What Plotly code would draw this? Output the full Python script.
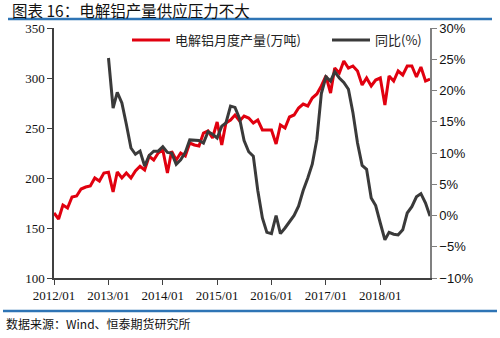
import pandas as pd
import plotly.graph_objects as go

# Monthly dates 2012/01 - 2018/12
months = pd.date_range("2012-01-01", periods=84, freq="MS")

# Electrolytic aluminium monthly output (10k tonnes)
output_wt = [
    165, 159, 173, 170, 181, 182, 189, 191, 192, 200, 197, 205,
    205.7, 186, 206, 200, 205, 200, 207, 211.7, 208, 221.7, 218, 225,
    228, 205, 226.7, 218, 225, 222, 235, 233, 232, 245, 247, 240,
    256, 233, 255, 258, 263, 257, 262, 260, 255, 258, 248, 248,
    248, 234, 253, 250, 261, 263, 270, 274, 272, 280, 284, 292,
    302, 285, 310, 305, 317, 310, 312, 307, 293, 300, 292, 298,
    300, 273, 302, 297, 307, 303, 312, 312, 301, 311, 297, 299,
]

# Year-on-year change (%), available from 2013/01
yoy_pct = [None] * 12 + [
    25.2, 17.2, 19.7, 18.0, 14.6, 10.8, 9.8, 10.3, 7.9, 9.6, 10.3, 10.3,
    11.0, 10.1, 10.0, 8.2, 8.9, 10.1, 12.1, 12.0, 12.0, 11.6, 13.4, 13.0,
    12.4, 14.3, 14.8, 17.5, 17.3, 15.5, 12.0, 10.2, 9.5, 4.0, -0.4, -2.7,
    -2.9, 0.0, -2.9, -2.0, -1.0, 0.0, 1.5, 4.0, 6.0, 8.2, 12.2, 19.5,
    22.2, 21.5, 23.0, 22.0, 21.3, 20.2, 16.5, 11.6, 8.0, 7.4, 2.8, 1.6,
    -1.2, -3.9, -2.7, -3.0, -3.1, -2.3, 0.4, 1.4, 3.0, 3.5, 2.0, -0.1,
]

year_ticks = pd.date_range("2012-01-01", "2018-01-01", freq="YS")
year_labels = [d.strftime("%Y/%m") for d in year_ticks]

title_text = "图表 16：电解铝产量供应压力不大"
source_text = "数据来源：Wind、恒泰期货研究所"

RED = "#E1000F"
DARK = "#3A3A3A"
BLUE = "#2E74B5"
serif = "Liberation Serif"
cjk = "Noto Sans CJK SC"

fig = go.Figure()
fig.add_trace(go.Scatter(
    x=months, y=output_wt, mode="lines", name="电解铝月度产量(万吨)",
    line=dict(color=RED, width=3), legend="legend",
))
fig.add_trace(go.Scatter(
    x=months, y=yoy_pct, mode="lines", name="同比(%)", yaxis="y2",
    line=dict(color=DARK, width=3), legend="legend2",
))

# plot area: x 54..430 px, y 28..278 px
L, R, T, B = 54, 430, 28, 278
W, H = R - L, B - T


def px(xp):
    return (xp - L) / W


def py(yp):
    return (B - yp) / H


legend_style = dict(
    yanchor="middle", xanchor="left", y=py(40),
    font=dict(family=cjk, size=13, color="#222222"),
    bgcolor="rgba(0,0,0,0)", itemwidth=38,
)

fig.update_layout(
    width=500, height=338,
    margin=dict(l=L, r=500 - R, t=T, b=338 - B),
    paper_bgcolor="white", plot_bgcolor="white",
    showlegend=True,
    legend=dict(x=px(127), **legend_style),
    legend2=dict(x=px(327), **legend_style),
    xaxis=dict(
        type="date", range=[months[0], months[-1]],
        tickvals=year_ticks, ticktext=year_labels,
        showgrid=False, zeroline=False,
        showline=True, linecolor="#404040", linewidth=1.5,
        ticks="outside", ticklen=5, tickcolor="#404040",
        tickfont=dict(family=serif, size=13, color="#111111"),
    ),
    yaxis=dict(
        range=[100, 350], dtick=50, showgrid=False, zeroline=False,
        showline=True, linecolor="#404040", linewidth=1.5,
        ticks="outside", ticklen=5, tickcolor="#404040",
        tickfont=dict(family=serif, size=13, color="#111111"),
    ),
    yaxis2=dict(
        overlaying="y", side="right", range=[-10, 30], dtick=5,
        ticksuffix="%", showgrid=False, zeroline=False,
        showline=True, linecolor="#808080", linewidth=1.5,
        ticks="outside", ticklen=5, tickcolor="#808080",
        tickfont=dict(family="Liberation Sans", size=13, color="#111111"),
    ),
    shapes=[
        dict(type="line", xref="paper", yref="paper",
             x0=px(8), x1=px(492), y0=py(19), y1=py(19),
             line=dict(color=BLUE, width=2.5)),
        dict(type="line", xref="paper", yref="paper",
             x0=px(3), x1=px(497), y0=py(311), y1=py(311),
             line=dict(color=BLUE, width=2.5)),
    ],
    annotations=[
        dict(text=title_text, xref="paper", yref="paper",
             x=px(10), y=py(10), xanchor="left", yanchor="middle",
             showarrow=False, font=dict(family=cjk, size=15.5, color="#111111")),
        dict(text=source_text, xref="paper", yref="paper",
             x=px(4), y=py(323), xanchor="left", yanchor="middle",
             showarrow=False, font=dict(family=cjk, size=12, color="#111111")),
    ],
)

fig.write_html("out.html")
